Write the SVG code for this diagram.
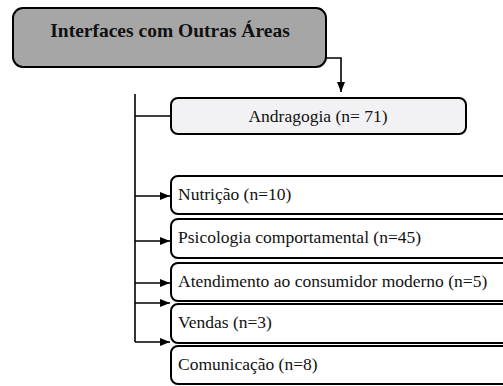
<svg xmlns="http://www.w3.org/2000/svg" width="503" height="386" viewBox="0 0 503 386">
<defs>
<marker id="ah" markerWidth="10" markerHeight="8" refX="10" refY="4" orient="auto" markerUnits="userSpaceOnUse">
<path d="M0,0 L10,4 L0,8 Z" fill="#000"/>
</marker>
<style>
.box{stroke:#000;stroke-width:2;}
.lbl{font-size:17.5px;fill:#111;}
.conn{fill:none;stroke:#000;stroke-width:1.6;}
</style>
</defs>
<rect width="503" height="386" fill="#fff"/>
<g id="connectors">
<path class="conn" d="M326,58 H341 V92" marker-end="url(#ah)"/>
<path class="conn" d="M135,94 V342"/>
<path class="conn" d="M135,116 H171"/>
<path class="conn" d="M135,196 H170" marker-end="url(#ah)"/>
<path class="conn" d="M135,241 H170" marker-end="url(#ah)"/>
<path class="conn" d="M135,283 H170" marker-end="url(#ah)"/>
<path class="conn" d="M135,303 H170" marker-end="url(#ah)"/>
<path class="conn" d="M135,342 H170" marker-end="url(#ah)"/>
</g>
<g font-family="Liberation Serif, DejaVu Serif, serif">
<g id="title">
<rect class="box" x="13" y="8" width="313" height="59" rx="10" fill="#a6a6a6"/>
<text class="lbl" x="170" y="37" text-anchor="middle" font-weight="bold" style="font-size:19.5px">Interfaces com Outras Áreas</text>
</g>
<g id="andragogia">
<rect class="box" x="171" y="98" width="295" height="36" rx="7" fill="#f2f2f4"/>
<text class="lbl" x="318" y="122" text-anchor="middle">Andragogia (n= 71)</text>
</g>
<g id="nutricao">
<rect class="box" x="171" y="176" width="345" height="38" rx="7" fill="#fff"/>
<text class="lbl" x="178" y="200">Nutrição (n=10)</text>
</g>
<g id="psicologia">
<rect class="box" x="171" y="219" width="345" height="39" rx="7" fill="#fff"/>
<text class="lbl" x="178" y="243">Psicologia comportamental (n=45)</text>
</g>
<g id="atendimento">
<rect class="box" x="171" y="263" width="345" height="38" rx="7" fill="#fff"/>
<text class="lbl" x="178" y="287">Atendimento ao consumidor moderno (n=5)</text>
</g>
<g id="vendas">
<rect class="box" x="171" y="304" width="345" height="39" rx="7" fill="#fff"/>
<text class="lbl" x="178" y="328">Vendas (n=3)</text>
</g>
<g id="comunicacao">
<rect class="box" x="171" y="346" width="345" height="38" rx="7" fill="#fff"/>
<text class="lbl" x="178" y="370">Comunicação (n=8)</text>
</g>
</g>
</svg>
